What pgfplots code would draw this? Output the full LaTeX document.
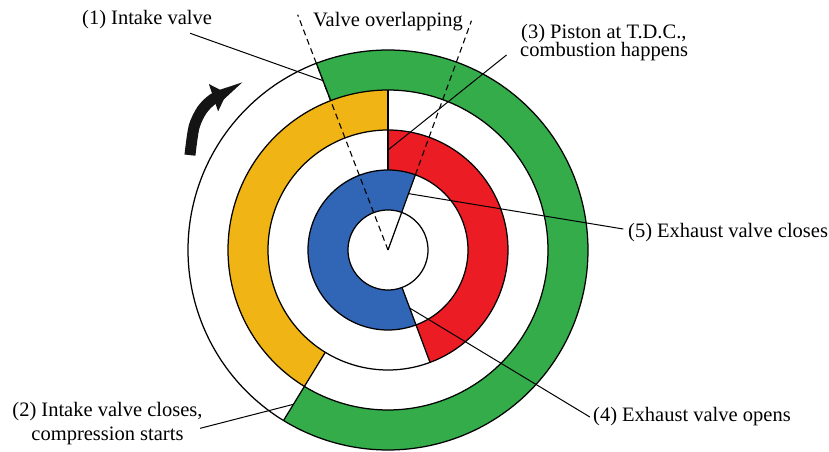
\documentclass[border=0pt]{standalone}
\usepackage{pgfplots}
\pgfplotsset{compat=1.18}
\usepgfplotslibrary{polar}
\usetikzlibrary{arrows.meta}
\usepackage{fontspec}
\setmainfont{Liberation Serif}
\definecolor{cgreen}{RGB}{52,172,74}
\definecolor{cyellow}{RGB}{240,180,20}
\definecolor{cred}{RGB}{236,28,36}
\definecolor{cblue}{RGB}{49,102,182}
\definecolor{carrow}{RGB}{20,20,20}
\begin{document}
\begin{tikzpicture}[x=1bp,y=1bp]
\useasboundingbox (-388,-202) rectangle (441,250);
\begin{polaraxis}[hide axis, scale only axis, width=500bp, height=500bp,
  ymin=0, ymax=250, clip=false, at={(0,0)}, anchor=origin]
% coloured rings: angle range (degrees, counter-clockwise from +x) at mid radius
\addplot[cgreen, line width=40bp, domain=-121.5:111, samples=240, no markers] {180};
\addplot[cyellow, line width=40bp, domain=90:238.5, samples=160, no markers] {140};
\addplot[cred, line width=40bp, domain=-69.5:90, samples=160, no markers] {100};
\addplot[cblue, line width=40bp, domain=70:290.5, samples=220, no markers] {60};
% circles
\addplot[black, line width=1.25bp, domain=0:360, samples=241, no markers] {40};
\addplot[black, line width=1.25bp, domain=0:360, samples=241, no markers] {80};
\addplot[black, line width=1.25bp, domain=0:360, samples=241, no markers] {120};
\addplot[black, line width=1.25bp, domain=0:360, samples=241, no markers] {160};
\addplot[black, line width=1.25bp, domain=0:360, samples=241, no markers] {200};
% sector edges
\addplot[black, line width=1.25bp, no markers] coordinates {(111,160) (111,200)};
\addplot[black, line width=1.25bp, no markers] coordinates {(238.5,160) (238.5,200)};
\addplot[black, line width=1.25bp, no markers] coordinates {(238.5,120) (238.5,160)};
\addplot[black, line width=1.25bp, no markers] coordinates {(90,120) (90,160)};
\addplot[black, line width=1.25bp, no markers] coordinates {(90,80) (90,120)};
\addplot[black, line width=1.25bp, no markers] coordinates {(290.5,80) (290.5,120)};
\addplot[black, line width=1.25bp, no markers] coordinates {(290.5,40) (290.5,80)};
\addplot[black, line width=1.25bp, no markers] coordinates {(70,0) (70,80)};
% valve overlapping
\addplot[black, line width=1.1bp, dash pattern=on 6bp off 4bp, no markers] coordinates {(111,0) (111,252)};
\addplot[black, line width=1.1bp, dash pattern=on 6bp off 4bp, no markers] coordinates {(70,80) (70,244)};
% leader lines
\addplot[black, line width=1bp, no markers] coordinates {(132.4,293.5) (111.2,182)};
\addplot[black, line width=1bp, no markers] coordinates {(223.5,259.1) (238.5,181)};
\addplot[black, line width=1bp, no markers] coordinates {(58.7,228.3) (90,100)};
\addplot[black, line width=1bp, no markers] coordinates {(320.4,262.1) (290.5,62)};
\addplot[black, line width=1bp, no markers] coordinates {(5.1,236.2) (70,60)};
% rotation arrow
\addplot[carrow, line width=11bp, smooth, -{Triangle[width=28bp,length=14bp]}, no markers]
  coordinates {(154.4,219.6) (147.6,229.7) (143.0,232.8) (139.2,231.1) (135.8,224.9)};
\end{polaraxis}
\tikzset{lab/.style={font=\fontsize{20.5bp}{24bp}\selectfont, inner sep=0pt}}
\node[lab, anchor=base west] at (-306,225) {(1) Intake valve};
\node[lab, anchor=base west] at (-75,223.5) {Valve overlapping};
\node[lab, anchor=base west] at (133,211.7) {(3) Piston at T.D.C.,};
\node[lab, anchor=base west] at (132,193) {combustion happens};
\node[lab, anchor=base west] at (240,12) {(5) Exhaust valve closes};
\node[lab, anchor=base west] at (205,-171.7) {(4) Exhaust valve opens};
\node[lab, anchor=base] at (-280.5,-166.7) {(2) Intake valve closes,};
\node[lab, anchor=base] at (-280.5,-191) {compression starts};
\end{tikzpicture}
\end{document}
